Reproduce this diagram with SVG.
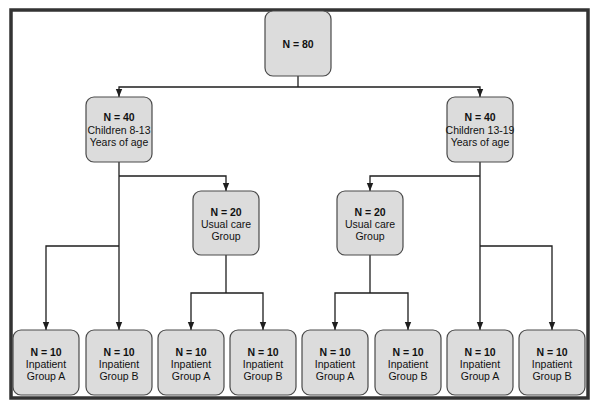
<svg xmlns="http://www.w3.org/2000/svg" width="600" height="410" viewBox="0 0 600 410">
<defs>
<style>
.frame{fill:#ffffff;stroke:#333333;stroke-width:3.5}
.box{fill:#dcdcdc;stroke:#4a4a4a;stroke-width:1.2}
.t{font-family:"Liberation Sans",Arial,sans-serif;font-size:10.5px;fill:#111111;text-anchor:middle}
.b{font-weight:bold}
.c{fill:none;stroke:#1e1e1e;stroke-width:1.3}
</style>
<marker id="ah" markerUnits="userSpaceOnUse" markerWidth="8" markerHeight="8" viewBox="0 0 8 8" refX="8" refY="4" orient="auto">
<path d="M0,0.8 L8,4 L0,7.2 Z" fill="#1e1e1e"/>
</marker>
</defs>
<rect width="600" height="410" fill="#ffffff"/>
<rect class="frame" x="11" y="10" width="577" height="388"/>
<g id="connectors">
<path class="c" d="M298,76 V87"/>
<path class="c" d="M298,87 H119 V97" marker-end="url(#ah)"/>
<path class="c" d="M298,87 H480 V97" marker-end="url(#ah)"/>
<path class="c" d="M119,162 V330" marker-end="url(#ah)"/>
<path class="c" d="M119,176 H226 V191" marker-end="url(#ah)"/>
<path class="c" d="M119,246 H46 V330" marker-end="url(#ah)"/>
<path class="c" d="M480,162 V330" marker-end="url(#ah)"/>
<path class="c" d="M480,176 H370 V191" marker-end="url(#ah)"/>
<path class="c" d="M480,246 H552 V330" marker-end="url(#ah)"/>
<path class="c" d="M226,255 V293"/>
<path class="c" d="M226,293 H191 V330" marker-end="url(#ah)"/>
<path class="c" d="M226,293 H263 V330" marker-end="url(#ah)"/>
<path class="c" d="M370,255 V293"/>
<path class="c" d="M370,293 H335 V330" marker-end="url(#ah)"/>
<path class="c" d="M370,293 H408 V330" marker-end="url(#ah)"/>
</g>
<g id="n80"><rect class="box" x="265" y="11" width="66" height="65" rx="8"/><text class="t b" x="298" y="48">N = 80</text></g>
<g id="n40a"><rect class="box" x="86" y="97" width="66" height="65" rx="8"/><text class="t b" x="119" y="121">N = 40</text><text class="t" x="119" y="133.5">Children 8-13</text><text class="t" x="119" y="146">Years of age</text></g>
<g id="n40b"><rect class="box" x="447" y="97" width="66" height="65" rx="8"/><text class="t b" x="480" y="121">N = 40</text><text class="t" x="480" y="133.5">Children 13-19</text><text class="t" x="480" y="146">Years of age</text></g>
<g id="u20a"><rect class="box" x="193" y="191" width="66" height="64" rx="8"/><text class="t b" x="226" y="216">N = 20</text><text class="t" x="226" y="228">Usual care</text><text class="t" x="226" y="240">Group</text></g>
<g id="u20b"><rect class="box" x="337" y="191" width="66" height="64" rx="8"/><text class="t b" x="370" y="216">N = 20</text><text class="t" x="370" y="228">Usual care</text><text class="t" x="370" y="240">Group</text></g>
<g id="b1"><rect class="box" x="13" y="330" width="66" height="65" rx="8"/><text class="t b" x="46" y="356">N = 10</text><text class="t" x="46" y="368">Inpatient</text><text class="t" x="46" y="380">Group A</text></g>
<g id="b2"><rect class="box" x="86" y="330" width="66" height="65" rx="8"/><text class="t b" x="119" y="356">N = 10</text><text class="t" x="119" y="368">Inpatient</text><text class="t" x="119" y="380">Group B</text></g>
<g id="b3"><rect class="box" x="158" y="330" width="66" height="65" rx="8"/><text class="t b" x="191" y="356">N = 10</text><text class="t" x="191" y="368">Inpatient</text><text class="t" x="191" y="380">Group A</text></g>
<g id="b4"><rect class="box" x="230" y="330" width="66" height="65" rx="8"/><text class="t b" x="263" y="356">N = 10</text><text class="t" x="263" y="368">Inpatient</text><text class="t" x="263" y="380">Group B</text></g>
<g id="b5"><rect class="box" x="302" y="330" width="66" height="65" rx="8"/><text class="t b" x="335" y="356">N = 10</text><text class="t" x="335" y="368">Inpatient</text><text class="t" x="335" y="380">Group A</text></g>
<g id="b6"><rect class="box" x="375" y="330" width="66" height="65" rx="8"/><text class="t b" x="408" y="356">N = 10</text><text class="t" x="408" y="368">Inpatient</text><text class="t" x="408" y="380">Group B</text></g>
<g id="b7"><rect class="box" x="447" y="330" width="66" height="65" rx="8"/><text class="t b" x="480" y="356">N = 10</text><text class="t" x="480" y="368">Inpatient</text><text class="t" x="480" y="380">Group A</text></g>
<g id="b8"><rect class="box" x="519" y="330" width="66" height="65" rx="8"/><text class="t b" x="552" y="356">N = 10</text><text class="t" x="552" y="368">Inpatient</text><text class="t" x="552" y="380">Group B</text></g>
</svg>
